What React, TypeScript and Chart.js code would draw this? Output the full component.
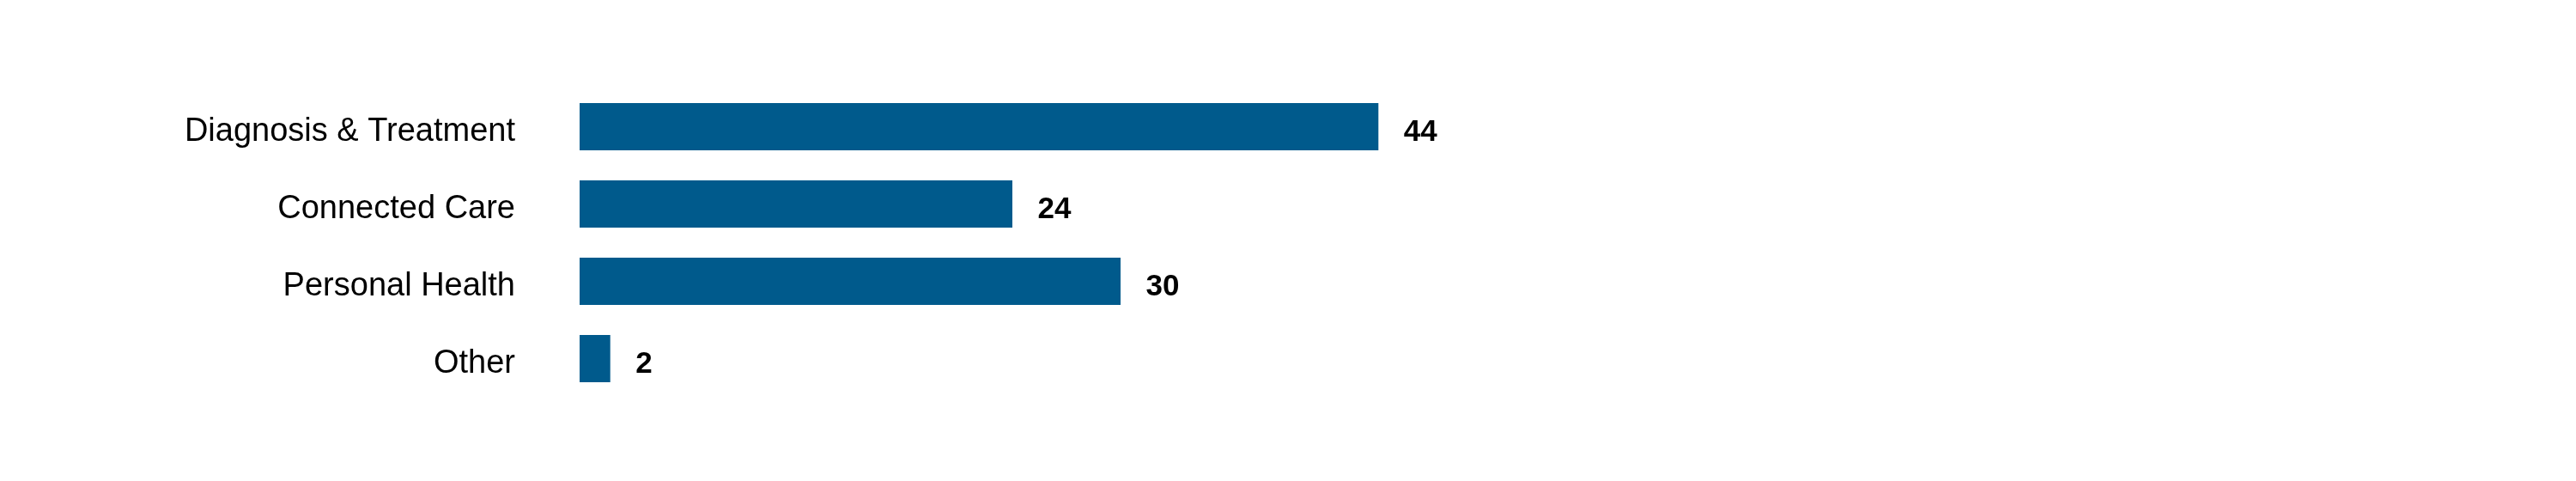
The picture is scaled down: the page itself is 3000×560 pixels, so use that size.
import React, { useEffect, useRef } from "react";
import { Chart, registerables } from "chart.js";

Chart.register(...registerables);

const categories = ["Diagnosis & Treatment", "Connected Care", "Personal Health", "Other"];
const values = [44.3, 24, 30, 1.7];
const valueLabels = ["44", "24", "30", "2"];

const BAR_COLOR = "#005A8C";
const FONT = "'Liberation Sans', Arial, sans-serif";

const valueLabelPlugin = {
  id: "valueLabels",
  afterDatasetsDraw(chart: any) {
    const ctx = chart.ctx;
    const meta = chart.getDatasetMeta(0);
    ctx.save();
    ctx.font = `bold 35px ${FONT}`;
    ctx.fillStyle = "#000000";
    ctx.textAlign = "left";
    ctx.textBaseline = "alphabetic";
    meta.data.forEach((bar: any, i: number) => {
      ctx.fillText(valueLabels[i], bar.x + 29.5, bar.y + 16.5);
    });
    ctx.restore();
  },
};

export default function App() {
  const canvasRef = useRef<HTMLCanvasElement | null>(null);

  useEffect(() => {
    document.body.style.margin = "0";
    const canvas = canvasRef.current;
    if (!canvas) return;
    const chart = new Chart(canvas, {
      type: "bar",
      data: {
        labels: categories,
        datasets: [
          {
            data: values,
            backgroundColor: BAR_COLOR,
            borderWidth: 0,
            categoryPercentage: 1,
            barPercentage: 55 / 90,
          },
        ],
      },
      options: {
        indexAxis: "y",
        responsive: false,
        animation: false,
        devicePixelRatio: 1,
        layout: { padding: { left: 0, right: 225, top: 102.5, bottom: 97.5 } },
        plugins: {
          legend: { display: false },
          tooltip: { enabled: false },
          title: { display: false },
        },
        scales: {
          x: {
            display: false,
            min: 0,
            max: 100,
          },
          y: {
            grid: { display: false, drawTicks: false },
            border: { display: false },
            ticks: {
              color: "#000000",
              font: { family: FONT, size: 38 },
              padding: 75,
              labelOffset: 6.3,
            },
            afterFit(scale: any) {
              scale.width = 675;
              scale.paddingTop = 0;
              scale.paddingBottom = 0;
            },
          },
        },
      },
      plugins: [valueLabelPlugin],
    });
    return () => chart.destroy();
  }, []);

  return (
    <div style={{ position: "absolute", left: 0, top: 0, width: 3000, height: 560, background: "#ffffff" }}>
      <canvas ref={canvasRef} width={3000} height={560} style={{ width: 3000, height: 560, display: "block" }} />
    </div>
  );
}
